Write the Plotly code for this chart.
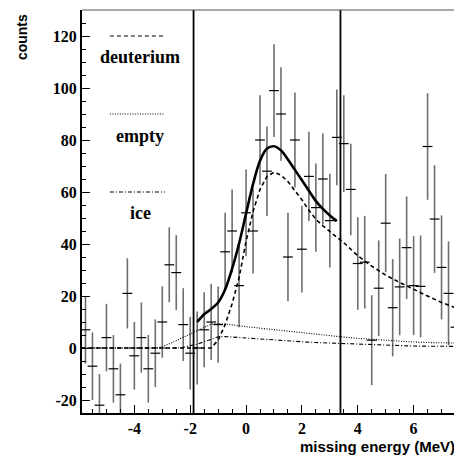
import plotly.graph_objects as go

# ---- data ----
energy = [-5.75, -5.5, -5.25, -5.0, -4.75, -4.5, -4.25, -4.0, -3.75, -3.5, -3.25, -3.0,
          -2.75, -2.5, -2.25, -2.0, -1.75, -1.5, -1.25, -1.0, -0.75, -0.5, -0.25, 0.0,
          0.25, 0.5, 0.75, 1.0, 1.25, 1.5, 1.75, 2.0, 2.25, 2.5, 2.75, 3.0,
          3.25, 3.5, 3.75, 4.0, 4.25, 4.5, 4.75, 5.0, 5.25, 5.5, 5.75, 6.0,
          6.25, 6.5, 6.75, 7.0, 7.25, 7.5]
counts = [7, -7, -22, 4, -8, -18, 21, -3, 4, -8, -2, 10,
          32, 29, 9, -2, 0, 7, 10, 9, 37, 45, 24, 52,
          45, 80, 68, 99, 90, 35, 80, 38, 66, 54, 65, 49,
          81, 78.6, 61, 32.5, 33, 3, 23, 48, 15.5, 23.5, 38.6, 24,
          23.7, 77.5, 49.6, 31, 21, 8]
errors = [13, 13, 12, 13, 13, 12, 13.5, 13, 13.5, 13, 13, 13.7,
          14.4, 14.4, 14, 14, 14, 14.4, 14.6, 14.7, 15, 16, 16, 16.7,
          16.3, 17.2, 17.2, 17.8, 18, 17, 18.3, 16.7, 17.2, 17, 17.5, 18,
          18.4, 18.6, 17.6, 17.8, 17.8, 17.3, 18.4, 18.9, 18.7, 18.6, 19.7, 19,
          19.6, 20.5, 20.7, 20, 20, 20]

fit_x = [-1.75, -1.5, -1.25, -1.0, -0.75, -0.5, -0.25, 0.0, 0.25, 0.5, 0.75, 1.0,
         1.25, 1.5, 1.75, 2.0, 2.25, 2.5, 2.75, 3.0, 3.25]
fit_total = [10, 13, 15, 17.5, 22.5, 30.5, 40.2, 51.7, 63, 72, 76.7, 77.6,
             76, 72.5, 68.5, 64.5, 60.5, 56.5, 53.5, 51, 48.8]

deut_x = [-5.875, -1.25, -1.0, -0.75, -0.5, -0.25, 0.0, 0.25, 0.5, 0.75, 1.0, 1.25,
          1.5, 1.75, 2.0, 2.25, 2.5, 2.75, 3.0, 3.25, 3.5, 3.75, 4.0, 4.5,
          5.0, 5.5, 6.0, 6.5, 7.0, 7.625]
deut_y = [0, 0, 3, 9, 17, 27, 41, 52.5, 61, 66, 67.6, 66.5,
          64, 60.5, 57, 53, 49.5, 47, 44.7, 42.6, 40.5, 38, 35.5, 31.5,
          28, 25.2, 22.5, 20, 17.5, 15]

empty_x = [-5.875, -3.25, -3.0, -2.75, -2.5, -2.25, -2.0, -1.75, -1.5, -1.25, -1.0, -0.75,
           -0.5, 0.0, 0.5, 1.0, 1.5, 2.0, 2.5, 3.0, 3.5, 4.0, 4.5, 5.0,
           5.5, 6.0, 6.5, 7.0, 7.625]
empty_y = [0, 0, 0.5, 1.5, 2.8, 4.1, 5.4, 6.8, 8.2, 9.2, 9.5, 9.3,
           8.9, 8.2, 7.6, 7.0, 6.4, 5.8, 5.2, 4.7, 4.2, 3.7, 3.3, 2.9,
           2.6, 2.3, 2.1, 2.0, 1.9]

ice_x = [-5.875, -2.5, -2.25, -2.0, -1.75, -1.5, -1.25, -1.0, -0.75, -0.5, 0.0, 0.5,
         1.0, 1.5, 2.0, 2.5, 3.0, 3.5, 4.0, 4.5, 5.0, 5.5, 6.0, 6.5,
         7.0, 7.625]
ice_y = [0, 0, 0.3, 0.8, 1.5, 2.4, 3.4, 4.3, 4.4, 4.2, 3.8, 3.4,
         3.0, 2.7, 2.4, 2.1, 1.9, 1.6, 1.4, 1.2, 1.0, 0.85, 0.75, 0.7,
         0.65, 0.6]

fit_limits = [-1.88, 3.38]

x_tickvals = [-4, -2, 0, 2, 4, 6]
x_ticktext = ["-4", "-2", "0", "2", "4", "6"]
y_tickvals = [-20, 0, 20, 40, 60, 80, 100, 120]
y_ticktext = ["-20", "0", "20", "40", "60", "80", "100", "120"]

legend_labels = ["deuterium", "empty", "ice"]
legend_dashes = ["4px,3px", "1px,1.5px", "4px,2px,1px,2px"]
legend_y = [120, 90, 60]
legend_text_y = [112, 81.5, 52]

# ---- figure ----
fig = go.Figure()

fig.add_trace(go.Scatter(
    x=energy, y=counts, mode="markers",
    error_y=dict(type="data", array=errors, visible=True, color="#6e6e6e",
                 thickness=1.6, width=0),
    marker=dict(symbol="line-ew", size=7, color="black",
                line=dict(color="black", width=1.2)),
    showlegend=False, hoverinfo="skip"))

fig.add_trace(go.Scatter(x=ice_x, y=ice_y, mode="lines",
                         line=dict(color="black", width=1.1, dash=legend_dashes[2]),
                         showlegend=False))
fig.add_trace(go.Scatter(x=empty_x, y=empty_y, mode="lines",
                         line=dict(color="black", width=1.1, dash=legend_dashes[1]),
                         showlegend=False))
fig.add_trace(go.Scatter(x=deut_x, y=deut_y, mode="lines",
                         line=dict(color="black", width=1.6, dash=legend_dashes[0]),
                         showlegend=False))
fig.add_trace(go.Scatter(x=fit_x, y=fit_total, mode="lines", line_shape="spline",
                         line=dict(color="black", width=2.6),
                         showlegend=False))

shapes = []
for xv in fit_limits:
    shapes.append(dict(type="line", xref="x", yref="paper", x0=xv, x1=xv, y0=0, y1=1,
                       line=dict(color="black", width=1.8)))
# thin top / right frame
shapes.append(dict(type="line", xref="paper", yref="paper", x0=0, x1=1, y0=1, y1=1,
                   line=dict(color="#555555", width=1)))
shapes.append(dict(type="line", xref="paper", yref="paper", x0=1, x1=1, y0=0, y1=1,
                   line=dict(color="#555555", width=1)))
for yv, ds in zip(legend_y, legend_dashes):
    shapes.append(dict(type="line", xref="paper", yref="y", x0=0.074, x1=0.220,
                       y0=yv, y1=yv, line=dict(color="black", width=1.2, dash=ds)))

annotations = []
for lab, yv in zip(legend_labels, legend_text_y):
    annotations.append(dict(text=lab, xref="paper", yref="y", x=0.154, y=yv,
                            showarrow=False, xanchor="center", yanchor="middle",
                            font=dict(family="Liberation Serif", size=18,
                                      color="black", weight="bold")))
annotations.append(dict(text="counts", xref="paper", yref="paper", x=-0.159, y=0.995,
                        textangle=-90, showarrow=False, xanchor="center", yanchor="top",
                        font=dict(family="Liberation Sans", size=14, color="black",
                                  weight="bold")))
annotations.append(dict(text="missing energy (MeV)", xref="paper", yref="paper",
                        x=0.995, y=-0.084, showarrow=False, xanchor="right",
                        yanchor="middle",
                        font=dict(family="Liberation Sans", size=15, color="black",
                                  weight="bold")))

tickfont = dict(family="Liberation Serif", size=16, color="black", weight="bold")

# the page body adds an 8px offset, so the figure is 8px smaller and margins shifted
fig.update_layout(
    width=454, height=449,
    margin=dict(l=74, r=3, t=2, b=44),
    paper_bgcolor="white", plot_bgcolor="white",
    shapes=shapes, annotations=annotations,
    xaxis=dict(range=[-5.875, 7.625], tickmode="array", tickvals=x_tickvals,
               ticktext=x_ticktext, ticks="inside", ticklen=8, tickwidth=1.2,
               tickcolor="black", showline=True, linecolor="black", linewidth=2,
               showgrid=False, zeroline=False, tickfont=tickfont,
               minor=dict(dtick=0.5, tick0=0, ticks="inside", ticklen=4,
                          tickwidth=1, tickcolor="black", showgrid=False)),
    yaxis=dict(range=[-25, 130], tickmode="array", tickvals=y_tickvals,
               ticktext=y_ticktext, ticks="inside", ticklen=8, tickwidth=1.2,
               tickcolor="black", showline=True, linecolor="black", linewidth=2,
               showgrid=False, zeroline=False, tickfont=tickfont,
               minor=dict(dtick=5, tick0=0, ticks="inside", ticklen=4,
                          tickwidth=1, tickcolor="black", showgrid=False)),
)

fig.write_html("out.html")
